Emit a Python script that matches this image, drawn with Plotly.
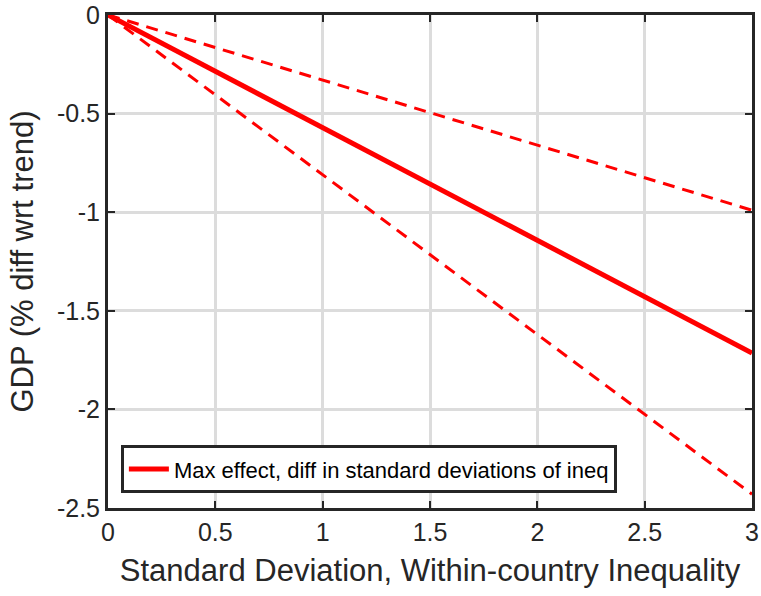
import plotly.graph_objects as go

x_vals = [0, 0.5, 1, 1.5, 2, 2.5, 3]
max_effect = [0, -0.286, -0.572, -0.857, -1.143, -1.429, -1.714]
upper_band = [0, -0.165, -0.33, -0.495, -0.66, -0.825, -0.99]
lower_band = [0, -0.405, -0.81, -1.215, -1.62, -2.025, -2.43]
x_ticks = [0, 0.5, 1, 1.5, 2, 2.5, 3]
y_ticks = [0, -0.5, -1, -1.5, -2, -2.5]
x_ticklabels = ["0", "0.5", "1", "1.5", "2", "2.5", "3"]
y_ticklabels = ["0", "-0.5", "-1", "-1.5", "-2", "-2.5"]

FONT = "Liberation Sans, Arial, Helvetica"

fig = go.Figure()
fig.add_trace(go.Scatter(x=x_vals, y=upper_band, mode="lines", showlegend=False,
                         line=dict(color="#ff0000", width=3, dash="12px,8px")))
fig.add_trace(go.Scatter(x=x_vals, y=lower_band, mode="lines", showlegend=False,
                         line=dict(color="#ff0000", width=3, dash="12px,8px")))
fig.add_trace(go.Scatter(x=x_vals, y=max_effect, mode="lines",
                         name="Max effect, diff in standard deviations of ineq",
                         line=dict(color="#ff0000", width=5)))

axis_common = dict(showgrid=True, gridcolor="#dcdcdc", gridwidth=3,
                   showline=True, linecolor="#262626", linewidth=3, mirror="ticks",
                   ticks="inside", ticklen=7, tickwidth=2, tickcolor="#262626",
                   zeroline=False, automargin=False,
                   tickfont=dict(family=FONT, size=25, color="#262626"))

fig.update_xaxes(range=[0, 3], tickvals=x_ticks, ticktext=x_ticklabels,
                 title=dict(text="Standard Deviation, Within-country Inequality",
                            font=dict(family=FONT, size=31, color="#262626")),
                 **axis_common)
fig.update_yaxes(range=[-2.5, 0], tickvals=y_ticks, ticktext=y_ticklabels,
                 title=dict(text="GDP (% diff wrt trend)",
                            font=dict(family=FONT, size=31, color="#262626")),
                 **axis_common)

fig.update_layout(
    width=761, height=596,
    margin=dict(l=108, r=9, t=15, b=88),
    plot_bgcolor="white", paper_bgcolor="white",
    legend=dict(x=0.02, y=0.03, xanchor="left", yanchor="bottom",
                bordercolor="#262626", borderwidth=3, bgcolor="white",
                font=dict(family=FONT, size=22, color="#000000"),
                itemwidth=40, tracegroupgap=0),
)

fig.write_html("out.html")
